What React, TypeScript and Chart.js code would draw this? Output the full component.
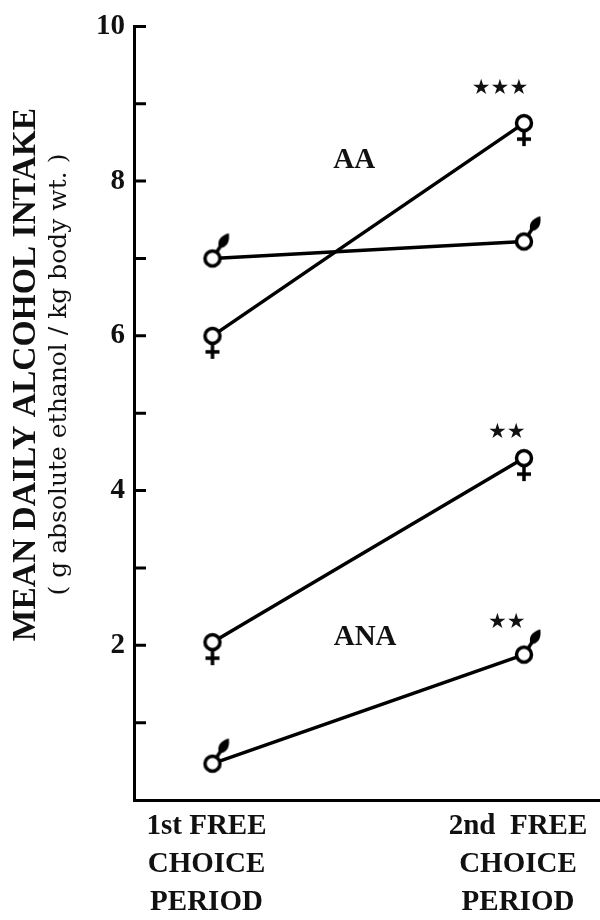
import React, { useEffect, useRef } from "react";
import { Chart, registerables } from "chart.js";

Chart.register(...registerables);

// ---- data ----
const periods = [1, 2];
const periodLabels = [
  ["1st FREE", "CHOICE", "PERIOD"],
  ["2nd  FREE", "CHOICE", "PERIOD"],
];
const femaleAA = [6.0, 8.75];
const maleAA = [7.0, 7.22];
const femaleANA = [2.04, 4.42];
const maleANA = [0.47, 1.88];
const yTickLabels = [2, 4, 6, 8, 10];
const yTickMarks = [1, 2, 3, 4, 5, 6, 7, 8, 9, 10];
const yTitle = "MEAN DAILY ALCOHOL INTAKE";
const ySubTitle = "( g absolute ethanol / kg body wt. )";
// annotations: [text, x value, y value]
const groupLabels: [string, number, number][] = [
  ["AA", 1.455, 8.26],
  ["ANA", 1.49, 2.1],
];
const significance: [string, number, number][] = [
  ["★★★", 1.923, 9.2],
  ["★★", 1.945, 4.75],
  ["★★", 1.945, 2.3],
];

function makeFemale(): HTMLCanvasElement {
  const c = document.createElement("canvas");
  c.width = 52;
  c.height = 52;
  const g = c.getContext("2d")!;
  const cx = 26, cy = 26, r = 7.5;
  g.strokeStyle = "#000";
  g.lineWidth = 3.5;
  g.beginPath();
  g.moveTo(cx, cy + r);
  g.lineTo(cx, cy + 23);
  g.moveTo(cx - 7, cy + 16);
  g.lineTo(cx + 7, cy + 16);
  g.stroke();
  g.beginPath();
  g.arc(cx, cy, r, 0, Math.PI * 2);
  g.fillStyle = "#fff";
  g.fill();
  g.stroke();
  return c;
}

function makeMale(): HTMLCanvasElement {
  const c = document.createElement("canvas");
  c.width = 66;
  c.height = 66;
  const g = c.getContext("2d")!;
  const cx = 33, cy = 33, r = 7.5;
  const ang = -57 * Math.PI / 180;
  const ux = Math.cos(ang), uy = Math.sin(ang);
  const px = -uy, py = ux;
  g.strokeStyle = "#000";
  g.fillStyle = "#000";
  g.lineWidth = 3.5;
  g.beginPath();
  g.moveTo(cx + ux * r, cy + uy * r);
  g.lineTo(cx + ux * 15, cy + uy * 15);
  g.stroke();
  // teardrop arrow head
  const b = 12, m = 20, t = 30, w = 6;
  g.beginPath();
  g.moveTo(cx + ux * b, cy + uy * b);
  g.bezierCurveTo(
    cx + ux * (m - 3) + px * w, cy + uy * (m - 3) + py * w,
    cx + ux * (m + 3) + px * w, cy + uy * (m + 3) + py * w,
    cx + ux * t, cy + uy * t
  );
  g.bezierCurveTo(
    cx + ux * (m + 3) - px * w, cy + uy * (m + 3) - py * w,
    cx + ux * (m - 3) - px * w, cy + uy * (m - 3) - py * w,
    cx + ux * b, cy + uy * b
  );
  g.fill();
  g.beginPath();
  g.arc(cx, cy, r, 0, Math.PI * 2);
  g.fillStyle = "#fff";
  g.fill();
  g.stroke();
  return c;
}

export default function App() {
  const ref = useRef<HTMLCanvasElement | null>(null);

  useEffect(() => {
    document.body.style.margin = "0";
    const female = makeFemale();
    const male = makeMale();
    const pts = (ys: number[]) => ys.map((y, i) => ({ x: periods[i], y }));

    const overlay = {
      id: "overlay",
      afterDraw(chart: any) {
        const ctx = chart.ctx;
        const xs = chart.scales.x;
        const ys = chart.scales.y;
        ctx.save();
        // inward tick marks
        ctx.strokeStyle = "#000";
        ctx.lineWidth = 3;
        ctx.beginPath();
        yTickMarks.forEach((v) => {
          const y = ys.getPixelForValue(v);
          ctx.moveTo(chart.chartArea.left, y);
          ctx.lineTo(chart.chartArea.left + 12, y);
        });
        ctx.stroke();
        ctx.fillStyle = "#111";
        // titles
        const cy = ys.getPixelForValue(5.5);
        ctx.textAlign = "center";
        ctx.textBaseline = "middle";
        ctx.save();
        ctx.translate(26, cy);
        ctx.rotate(-Math.PI / 2);
        ctx.font = "bold 33.5px 'Liberation Serif'";
        ctx.fillText(yTitle, 0, 0);
        ctx.restore();
        ctx.save();
        ctx.translate(59, cy);
        ctx.rotate(-Math.PI / 2);
        ctx.font = "25px 'DejaVu Serif'";
        ctx.fillText(ySubTitle, 0, 0);
        ctx.restore();
        // group labels
        ctx.font = "bold 29px 'Liberation Serif'";
        groupLabels.forEach(([t, x, y]) => {
          ctx.fillText(t, xs.getPixelForValue(x), ys.getPixelForValue(y));
        });
        ctx.font = "21px 'DejaVu Sans'";
        significance.forEach(([t, x, y]) => {
          ctx.fillText(t, xs.getPixelForValue(x), ys.getPixelForValue(y));
        });
        ctx.restore();
      },
    };

    const line = (data: number[], img: HTMLCanvasElement) => ({
      data: pts(data),
      borderColor: "#000",
      borderWidth: 3.5,
      pointStyle: img as any,
      pointRadius: 10,
      tension: 0,
      clip: false as any,
    });

    const chart = new Chart(ref.current!, {
      type: "line",
      data: {
        datasets: [
          line(maleAA, male),
          line(femaleAA, female),
          line(femaleANA, female),
          line(maleANA, male),
        ],
      },
      options: {
        animation: false,
        responsive: false,
        layout: { autoPadding: false, padding: { top: 25, right: 0, left: 0, bottom: 0 } },
        plugins: { legend: { display: false }, tooltip: { enabled: false } },
        scales: {
          x: {
            type: "linear",
            min: 0.748,
            max: 2.244,
            afterBuildTicks: (s: any) => {
              s.ticks = periods.map((v) => ({ value: v }));
            },
            afterFit: (s: any) => {
              s.height = 120;
              s.paddingLeft = 0;
              s.paddingRight = 0;
            },
            grid: { display: false, drawTicks: false },
            border: { display: true, color: "#000", width: 3 },
            ticks: {
              color: "#111",
              padding: 8,
              labelOffset: -6,
              maxRotation: 0,
              autoSkip: false,
              font: { family: "'Liberation Serif'", size: 29, weight: "bold", lineHeight: 1.3 },
              callback: (v: any) => {
                const i = periods.indexOf(Number(v));
                return i >= 0 ? periodLabels[i] : "";
              },
            },
          },
          y: {
            type: "linear",
            min: 0,
            max: 10,
            afterFit: (s: any) => {
              s.width = 134;
            },
            grid: { display: false, drawTicks: false },
            border: { display: true, color: "#000", width: 3 },
            ticks: {
              stepSize: 1,
              color: "#111",
              padding: 9,
              autoSkip: false,
              font: { family: "'Liberation Serif'", size: 29, weight: "bold" },
              callback: (v: any) => (yTickLabels.includes(Number(v)) ? String(v) : ""),
            },
          },
        },
      },
      plugins: [overlay],
    });
    return () => chart.destroy();
  }, []);

  return (
    <div style={{ width: 600, height: 920, background: "#fff" }}>
      <canvas ref={ref} width={600} height={920} />
    </div>
  );
}
